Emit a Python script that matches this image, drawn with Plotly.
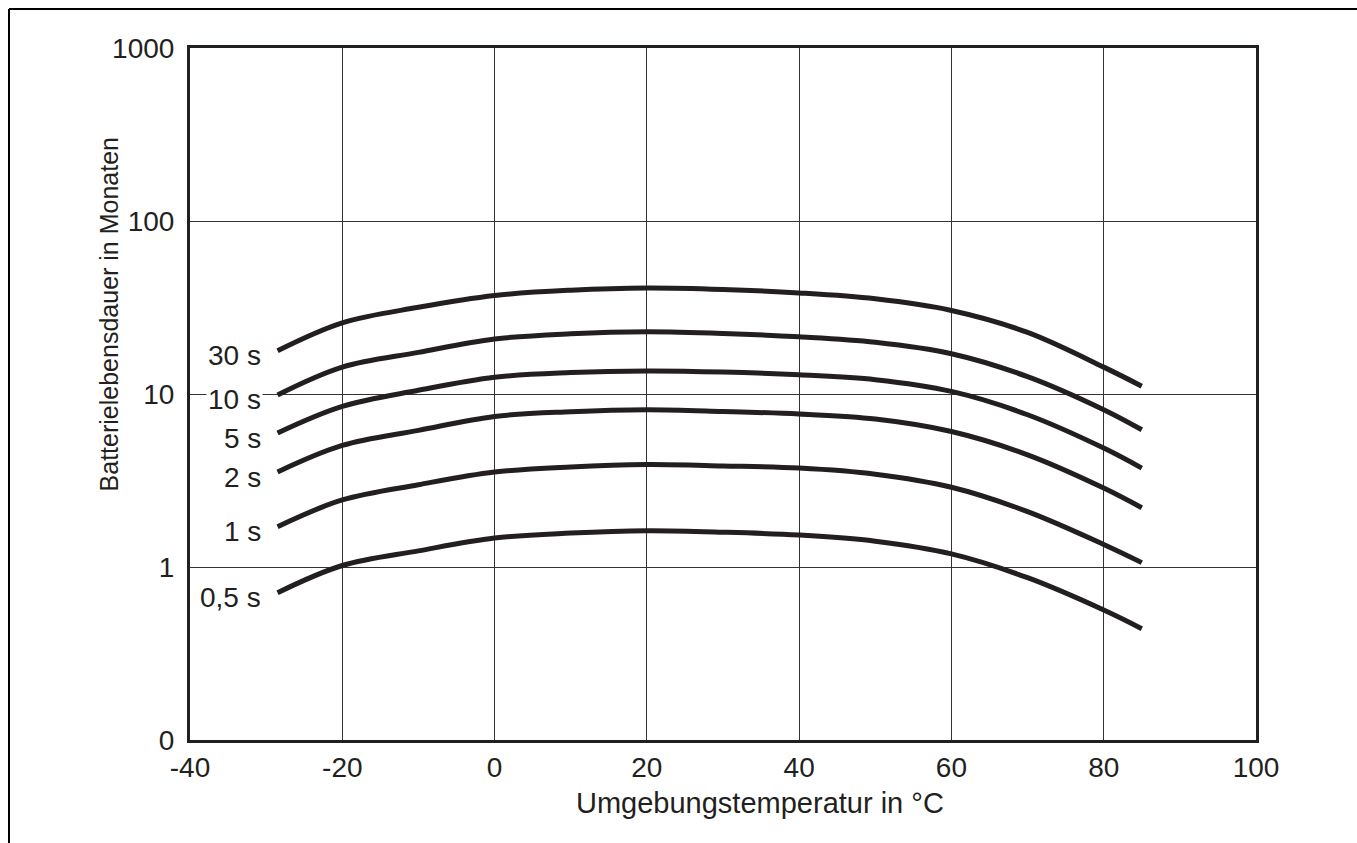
import math
import plotly.graph_objects as go

# Temperatures (°C) at which the curves were read
temps = [-28.5, -20, -10, 0, 10, 20, 30, 40, 50, 60, 70, 80, 85]

# Battery life in months for each measuring interval
life_30s = [17.8, 25.8, 31.7, 37.1, 39.8, 41.0, 40.2, 38.4, 35.5, 30.4, 22.7, 14.3, 11.1]
life_10s = [9.87, 14.3, 17.4, 20.8, 22.3, 22.9, 22.4, 21.4, 19.9, 17.1, 12.6, 8.11, 6.21]
life_5s = [5.95, 8.48, 10.5, 12.5, 13.3, 13.6, 13.4, 12.9, 12.1, 10.35, 7.59, 4.87, 3.73]
life_2s = [3.54, 5.04, 6.16, 7.42, 7.90, 8.11, 7.93, 7.66, 7.17, 6.07, 4.45, 2.86, 2.20]
life_1s = [1.71, 2.44, 2.99, 3.54, 3.79, 3.91, 3.84, 3.73, 3.44, 2.89, 2.09, 1.35, 1.06]
life_05s = [0.71, 1.02, 1.24, 1.47, 1.57, 1.62, 1.59, 1.53, 1.41, 1.19, 0.867, 0.564, 0.44]

series_labels = ["30 s", "10 s", "5 s", "2 s", "1 s", "0,5 s"]
series_values = [life_30s, life_10s, life_5s, life_2s, life_1s, life_05s]

x_ticks = [-40, -20, 0, 20, 40, 60, 80, 100]
x_ticktext = ["-40", "-20", "0", "20", "40", "60", "80", "100"]
y_ticks = [0.1, 1, 10, 100, 1000]
y_ticktext = ["0", "1", "10", "100", "1000"]

x_title = "Umgebungstemperatur in °C"
y_title = "Batterielebensdauer in Monaten"

INK = "#231f20"
FONT = "Liberation Sans, Arial, sans-serif"

# full-window figure; the page's body margin is removed below
W, H = 1357, 843
ML, MR, MT, MB = 190, 101, 48, 103
PW, PH = W - ML - MR, H - MT - MB

fig = go.Figure()
for name, vals in zip(series_labels, series_values):
    fig.add_trace(go.Scatter(
        x=temps, y=vals, mode="lines", name=name,
        line=dict(color=INK, width=5, shape="spline", smoothing=1.0),
        showlegend=False, hoverinfo="skip",
    ))
    fig.add_annotation(
        x=temps[0], y=math.log10(vals[0]), xref="x", yref="y",
        text=name, showarrow=False, xanchor="right", yanchor="middle",
        xshift=-15, yshift=-5, bgcolor="white", borderpad=1,
        font=dict(family=FONT, size=28, color=INK),
    )

fig.add_annotation(
    x=0.5347, y=-0.065, xref="paper", yref="paper", yanchor="top",
    text=x_title, showarrow=False,
    font=dict(family=FONT, size=29, color=INK),
)
fig.add_annotation(
    x=-0.076, y=0.615, xref="paper", yref="paper", xanchor="center", yanchor="middle",
    text=y_title, showarrow=False, textangle=-90,
    font=dict(family=FONT, size=25, color=INK),
)

# outer frame lines (top and left, running off the page)
fx = (9 - ML) / PW
fy = (H - MB - 9) / PH
fig.add_shape(type="line", xref="paper", yref="paper",
              x0=fx, x1=(W + 50 - ML) / PW, y0=fy, y1=fy,
              line=dict(color="black", width=2))
fig.add_shape(type="line", xref="paper", yref="paper",
              x0=fx, x1=fx, y0=fy, y1=(H - MB - H - 50) / PH,
              line=dict(color="black", width=2))

fig.update_layout(
    width=W, height=H,
    margin=dict(l=ML, r=MR, t=MT, b=MB),
    paper_bgcolor="white", plot_bgcolor="white",
    font=dict(family=FONT, size=28, color=INK),
    xaxis=dict(
        range=[-40, 100], tickmode="array", tickvals=x_ticks, ticktext=x_ticktext,
        showgrid=True, gridcolor="#333333", gridwidth=1,
        showline=True, linecolor=INK, linewidth=3, mirror=True,
        ticks="", zeroline=False, ticklabelstandoff=0,
        tickfont=dict(family=FONT, size=28, color=INK),
    ),
    yaxis=dict(
        type="log", range=[-1, 3], tickmode="array",
        tickvals=y_ticks, ticktext=y_ticktext,
        showgrid=True, gridcolor="#333333", gridwidth=1,
        showline=True, linecolor=INK, linewidth=3, mirror=True,
        ticks="", zeroline=False, ticklabelstandoff=7,
        tickfont=dict(family=FONT, size=28, color=INK),
    ),
)

fig.write_html(
    "out.html",
    config={"displayModeBar": False},
    post_script="document.body.style.margin='0';document.body.style.overflow='hidden';",
)
